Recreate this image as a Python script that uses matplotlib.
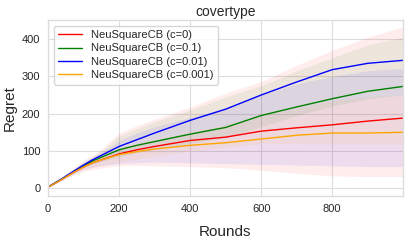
import numpy as np
import matplotlib
matplotlib.use("Agg")
import matplotlib.pyplot as plt
import seaborn as sns

sns.set_style("whitegrid")
plt.rcParams['font.family'] = ['Liberation Sans', 'DejaVu Sans']

rounds = [0, 25, 50, 75, 100, 125, 150, 200, 250, 300, 400, 500, 600, 700, 800, 900, 999]

labels = ["NeuSquareCB (c=0)", "NeuSquareCB (c=0.1)", "NeuSquareCB (c=0.01)", "NeuSquareCB (c=0.001)"]
colors = ["red", "green", "blue", "orange"]

mean_c0 = [3, 16, 30, 44, 57, 68, 76, 92, 103, 112, 128, 137, 153, 162, 170, 180, 188]
mean_c01 = [3, 17, 31, 46, 60, 73, 83, 103, 115, 125, 145, 163, 195, 218, 240, 260, 273]
mean_c001 = [3, 17, 32, 47, 62, 76, 88, 112, 130, 148, 182, 212, 250, 285, 318, 335, 343]
mean_c0001 = [3, 16, 30, 44, 57, 68, 76, 90, 98, 105, 115, 122, 132, 142, 148, 148, 150]

lo_c0 = [3, 14, 25, 36, 45, 50, 54, 60, 61, 60, 58, 55, 48, 40, 33, 31, 31]
hi_c0 = [3, 19, 38, 57, 75, 88, 105, 148, 168, 185, 218, 255, 286, 330, 370, 405, 433]
lo_c01 = [3, 16, 30, 43, 55, 65, 72, 85, 95, 105, 120, 135, 165, 195, 220, 240, 250]
hi_c01 = [3, 18, 37, 55, 72, 85, 100, 140, 160, 178, 210, 245, 275, 315, 350, 385, 405]
lo_c001 = [3, 15, 28, 40, 50, 56, 60, 66, 68, 70, 68, 66, 64, 62, 60, 58, 58]
hi_c001 = [3, 18, 36, 53, 70, 82, 95, 128, 148, 165, 190, 215, 250, 280, 300, 315, 322]
lo_c0001 = [3, 15, 28, 40, 50, 57, 62, 70, 78, 85, 100, 110, 120, 120, 119, 118, 118]
hi_c0001 = [3, 17, 34, 50, 66, 78, 88, 108, 120, 130, 150, 170, 195, 215, 235, 245, 250]

means = [mean_c0, mean_c01, mean_c001, mean_c0001]
lows = [lo_c0, lo_c01, lo_c001, lo_c0001]
highs = [hi_c0, hi_c01, hi_c001, hi_c0001]

fig = plt.figure(figsize=(4.07, 2.42), dpi=100)
ax = fig.add_axes([0.118, 0.19, 0.872, 0.727])

for m, lo, hi, c, lab in zip(means, lows, highs, colors, labels):
    ax.plot(rounds, m, color=c, lw=1.0, label=lab)
    ax.fill_between(rounds, lo, hi, color=c, alpha=0.07, lw=0)

ax.set_xlim(0, 999)
ax.set_ylim(-21, 451)
ax.set_xticks([0, 200, 400, 600, 800])
ax.set_yticks([0, 100, 200, 300, 400])
ax.tick_params(labelsize=8, pad=2)
ax.set_xlabel("Rounds", fontsize=11, labelpad=8)
ax.set_ylabel("Regret", fontsize=11, labelpad=4)
ax.set_title("covertype", fontsize=10, pad=3)
for sp in ax.spines.values():
    sp.set_color("#dddddd")
    sp.set_linewidth(1.0)
ax.grid(color="#dddddd", lw=0.8)
ax.legend(loc="upper left", fontsize=8, frameon=True, handlelength=2.2,
          borderpad=0.4, labelspacing=0.3)

fig.savefig("out.png", dpi=100)
